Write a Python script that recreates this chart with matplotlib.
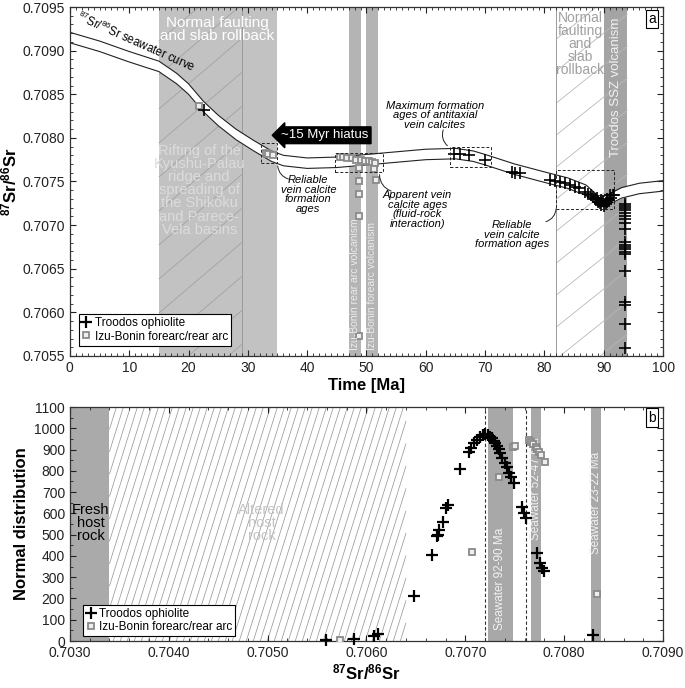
import matplotlib
matplotlib.use("Agg")
import matplotlib.pyplot as plt
import numpy as np
from matplotlib.collections import LineCollection
from matplotlib.lines import Line2D
from matplotlib.patches import Rectangle
from matplotlib.ticker import MultipleLocator, FormatStrFormatter

plt.rcParams["font.family"] = ["Liberation Sans", "DejaVu Sans"]
plt.rcParams["mathtext.fontset"] = "custom"
plt.rcParams["mathtext.rm"] = "Liberation Sans"
plt.rcParams["mathtext.it"] = "Liberation Sans:italic"
plt.rcParams["mathtext.bf"] = "Liberation Sans:bold"

# --- panel a: seawater curve (age Ma, 87Sr/86Sr centre of band) ---
sw_age = [0, 5, 10, 15, 18, 20, 22.5, 25, 28, 31, 34, 36, 40, 45, 50, 55, 60,
          65, 68, 70, 75, 80, 84, 87, 89, 90, 91, 93, 96, 100]
sw_sr = [0.70915, 0.70905, 0.70893, 0.70882, 0.70868, 0.70856, 0.70836,
         0.70820, 0.70804, 0.70791, 0.70779, 0.70774, 0.70771, 0.70772,
         0.70775, 0.70778, 0.70781, 0.70782, 0.70779, 0.70775, 0.70764,
         0.70755, 0.70748, 0.70740, 0.70728, 0.70727, 0.70730, 0.70737,
         0.70742, 0.70745]

troodos_age = [22.6, 64.8, 65.8, 67.3, 70.0, 74.5, 75.0, 75.9,
               80.9, 81.7, 82.6, 83.4, 84.3, 85.1, 85.9, 86.8, 87.3, 87.8,
               88.2, 88.6, 89.0, 89.3, 89.6, 90.0, 90.3, 90.6, 90.9, 91.2,
               91.5, 91.8, 89.8, 90.5, 88.9, 91.0, 89.5,
               93.6, 93.6, 93.6, 93.6, 93.6, 93.6, 93.6, 93.6, 93.6, 93.6,
               93.6, 93.6, 93.6, 93.6, 93.6, 93.6, 93.6, 93.6, 93.6, 93.6]
troodos_sr = [0.70832, 0.70782, 0.70782, 0.70780, 0.70775, 0.70761, 0.70760,
              0.70760, 0.70752, 0.70751, 0.70749, 0.70748, 0.70746, 0.70744,
              0.70742, 0.70738, 0.70736, 0.70735, 0.70732, 0.70730, 0.70727,
              0.70725, 0.70723, 0.70722, 0.70724, 0.70726, 0.70729, 0.70731,
              0.70734, 0.70735, 0.70728, 0.70730, 0.70731, 0.70734, 0.70729,
              0.707247, 0.707220, 0.707195, 0.707170, 0.707140, 0.707109,
              0.707075, 0.707029, 0.706960, 0.706805, 0.706776, 0.706748,
              0.706722, 0.706697, 0.706665, 0.706477, 0.706121, 0.706086,
              0.705868, 0.705592]

izu_age = [21.7, 33.0, 33.4, 34.2, 45.5, 46.1, 46.8, 47.6, 48.3, 49.0, 49.7,
           50.4, 50.9, 51.5, 48.7, 48.7, 48.7, 48.7, 48.7, 51.6, 51.3]
izu_sr = [0.70836, 0.70783, 0.70782, 0.70780, 0.70778, 0.70778, 0.70777,
          0.70777, 0.70775, 0.70775, 0.70773, 0.70773, 0.70772, 0.70771,
          0.70765, 0.70751, 0.70736, 0.70710, 0.70573, 0.70752, 0.70764]

# --- panel b: normal distribution vs 87Sr/86Sr ---
troodos_b_sr = [0.70559, 0.70587, 0.70608, 0.70612, 0.70648, 0.70666,
                0.70671, 0.70672, 0.70673, 0.70677, 0.70680, 0.70682,
                0.70695, 0.70704, 0.70706, 0.70709, 0.70712, 0.70715,
                0.70718, 0.70720, 0.70723, 0.70725, 0.70727, 0.70729,
                0.70730, 0.70732, 0.70734, 0.70735, 0.70737, 0.70740,
                0.70742, 0.70744, 0.70746, 0.70749, 0.70757, 0.70759,
                0.70761, 0.70772, 0.70776, 0.70778, 0.70780, 0.70829]
troodos_b_nd = [3, 8, 24, 33, 213, 404, 493, 498, 522, 561, 625, 639,
                807, 890, 907, 929, 945, 960, 968, 973, 968, 960, 953, 942,
                929, 917, 901, 882, 859, 838, 819, 788, 772, 741, 628, 603,
                577, 412, 365, 342, 331, 30]

izu_b_sr = [0.70573, 0.70707, 0.70734, 0.70748, 0.70750, 0.70764, 0.70766,
            0.70768, 0.70771, 0.70772, 0.70775, 0.70777, 0.70781, 0.70833]
izu_b_nd = [3, 417, 769, 912, 917, 945, 937, 926, 914, 902, 890, 874, 843,
            219]

sw_bands_b = [(0.70723, 0.70748, "Seawater 92-90 Ma"),
              (0.70766, 0.70777, "Seawater 52-47 Ma"),
              (0.70827, 0.70837, "Seawater 23-22 Ma")]
dashed_b = [0.707194, 0.707616]


def hatch(ax, x0, x1, y0, y1, slope_px, step_px, color, lw, z):
    # diagonal hatch lines at a fixed on-screen angle, clipped to the box
    fig = ax.figure
    bb = ax.get_position()
    w_px = bb.width * fig.get_figwidth() * fig.dpi
    h_px = bb.height * fig.get_figheight() * fig.dpi
    xl, yl = ax.get_xlim(), ax.get_ylim()
    sx = w_px / (xl[1] - xl[0])
    sy = h_px / (yl[1] - yl[0])
    run = (y1 - y0) * sy / slope_px / sx
    step = step_px / sx
    segs = []
    for c in np.arange(x0 - run, x1 + step, step):
        t_lo = max(0.0, (x0 - c) / run)
        t_hi = min(1.0, (x1 - c) / run)
        if t_hi <= t_lo:
            continue
        segs.append([(c + t_lo * run, y0 + t_lo * (y1 - y0)),
                     (c + t_hi * run, y0 + t_hi * (y1 - y0))])
    ax.add_collection(LineCollection(segs, colors=color, linewidths=lw,
                                     zorder=z))


def style_axis(ax):
    ax.tick_params(which="both", direction="in", top=True, right=True,
                   labelsize=10, colors="#222222")
    ax.tick_params(which="major", length=4)
    ax.tick_params(which="minor", length=2)
    for s in ax.spines.values():
        s.set_linewidth(0.9)
        s.set_color("#333333")


fig = plt.figure(figsize=(6.85, 6.88), dpi=100)
ax1 = fig.add_axes([0.102, 0.4826, 0.866, 0.5072])
ax2 = fig.add_axes([0.102, 0.0683, 0.866, 0.3401])

# ================= panel a =================
ax = ax1
ax.set_xlim(0, 100)
ax.set_ylim(0.7055, 0.7095)
ax.axvspan(15, 35, color="#c2c2c2", lw=0, zorder=0)
ax.axvline(29, color="#9a9a9a", lw=0.7, zorder=0.5)
hatch(ax, 15, 29, 0.7055, 0.7095, 0.85, 40, "#a2a2a2", 0.6, 0.4)
ax.axvspan(47, 49, color="#b4b4b4", lw=0, zorder=0)
ax.axvspan(50, 52, color="#b4b4b4", lw=0, zorder=0)
ax.axvspan(90, 94, color="#a4a4a4", lw=0, zorder=0)
ax.axvline(82, color="#9a9a9a", lw=0.7, zorder=0.5)
hatch(ax, 82, 94, 0.7055, 0.7095, 0.8, 40, "#b8b8b8", 0.6, 0.4)

hw = 0.00006
lo = np.array(sw_sr) - hw
hi = np.array(sw_sr) + hw
ax.fill_between(sw_age, lo, hi, color="white", lw=0, zorder=1)
ax.plot(sw_age, lo, color="#222222", lw=0.8, zorder=1.2)
ax.plot(sw_age, hi, color="#222222", lw=0.8, zorder=1.2)

ax.plot(izu_age, izu_sr, ls="none", marker="s", ms=5, mew=1.3,
        mec="#8a8a8a", mfc="#eeeeee", zorder=3)
ax.plot(troodos_age, troodos_sr, ls="none", marker="+", ms=8.5, mew=1.2,
        color="black", zorder=4)

ax.text(24.8, 0.70940, "Normal faulting\nand slab rollback", color="white",
        fontsize=11, ha="center", va="top", linespacing=0.95)
ax.text(21.8, 0.70793, "Rifting of the\nKyushu-Palau\nridge and\nspreading of\n"
        "the Shikoku\nand Parece-\nVela basins", color="#dcdcdc", fontsize=10.5,
        ha="center", va="top", linespacing=0.92)
ax.text(86, 0.70945, "Normal\nfaulting\nand\nslab\nrollback", color="#a0a0a0",
        fontsize=10, ha="center", va="top", linespacing=0.9)
ax.text(92, 0.70938, "Troodos SSZ volcanism", color="#f2f2f2", fontsize=9.5,
        rotation=90, ha="center", va="top")
ax.text(48, 0.70557, "Izu-Bonin rear arc volcanism", color="#ececec",
        fontsize=7.5, rotation=90, ha="center", va="bottom")
ax.text(51, 0.70557, "Izu-Bonin forearc volcanism", color="#ececec",
        fontsize=7.5, rotation=90, ha="center", va="bottom")
ax.text(11.2, 0.70910, r"$^{87}$Sr/$^{86}$Sr seawater curve", fontsize=8.3,
        rotation=-24, ha="center", va="center", rotation_mode="anchor",
        zorder=5)
ax.text(43.0, 0.70803, "~15 Myr hiatus", color="white", fontsize=9.5,
        ha="center", va="center", zorder=6,
        bbox=dict(boxstyle="larrow,pad=0.18", fc="black", ec="black"))

for (xa, xb, ya, yb) in [(32.2, 35.0, 0.70771, 0.70794),
                         (44.7, 52.8, 0.70761, 0.70783),
                         (64.0, 71.0, 0.70767, 0.70789),
                         (82.0, 91.8, 0.70719, 0.70763)]:
    ax.add_patch(Rectangle((xa, ya), xb - xa, yb - ya, fill=False,
                           ls=(0, (3, 2)), lw=0.7, ec="#222222", zorder=5))

note = dict(fontsize=8, style="italic", ha="center", va="center",
            linespacing=0.95)
ax.text(40.2, 0.70735, "Reliable\nvein calcite\nformation\nages", **note)
ax.text(58.6, 0.70718, "Apparent vein\ncalcite ages\n(fluid-rock\ninteraction)",
        **note)
ax.text(61.5, 0.70826, "Maximum formation\nages of antitaxial\nvein calcites",
        **note)
ax.text(74.5, 0.70689, "Reliable\nvein calcite\nformation ages", **note)
lead = dict(arrowstyle="-", lw=0.7, color="#222222")
ax.annotate("", xy=(35.0, 0.70771), xytext=(37.3, 0.70752),
            arrowprops=dict(connectionstyle="arc3,rad=-0.4", **lead))
ax.annotate("", xy=(52.2, 0.70761), xytext=(54.6, 0.70738),
            arrowprops=dict(connectionstyle="arc3,rad=-0.4", **lead))
ax.annotate("", xy=(64.0, 0.70789), xytext=(63.1, 0.70812),
            arrowprops=dict(connectionstyle="arc3,rad=0.4", **lead))
ax.annotate("", xy=(82.0, 0.70722), xytext=(79.8, 0.70703),
            arrowprops=dict(connectionstyle="arc3,rad=0.4", **lead))

ax.text(0.988, 0.986, "a", transform=ax.transAxes, ha="right", va="top",
        fontsize=10, bbox=dict(boxstyle="square,pad=0.15", fc="white",
                               ec="black", lw=0.8), zorder=7)

ax.xaxis.set_major_locator(MultipleLocator(10))
ax.xaxis.set_minor_locator(MultipleLocator(1))
ax.yaxis.set_major_locator(MultipleLocator(0.0005))
ax.yaxis.set_minor_locator(MultipleLocator(0.0001))
ax.yaxis.set_major_formatter(FormatStrFormatter("%.4f"))
style_axis(ax)
ax.set_xlabel("Time [Ma]", fontsize=12, fontweight="bold", labelpad=2)
ax.set_ylabel(r"$\mathbf{^{87}Sr/^{86}Sr}$", fontsize=12, labelpad=2)

leg_handles = [
    Line2D([], [], ls="none", marker="+", ms=9, mew=1.6, color="black"),
    Line2D([], [], ls="none", marker="s", ms=5, mew=1.3, mec="#8a8a8a",
           mfc="#eeeeee"),
]
leg_labels = ["Troodos ophiolite", "Izu-Bonin forearc/rear arc"]
leg_kw = dict(loc="lower left", fontsize=8.5, fancybox=False,
              edgecolor="black", framealpha=1, borderpad=0.25,
              labelspacing=0.1, handlelength=0.8, handletextpad=0.3,
              borderaxespad=0)
lg = ax.legend(leg_handles, leg_labels, bbox_to_anchor=(0.015, 0.03), **leg_kw)
lg.get_frame().set_linewidth(0.8)
lg.set_zorder(8)

# ================= panel b =================
ax = ax2
ax.set_xlim(0.7030, 0.7090)
ax.set_ylim(0, 1100)
ax.axvspan(0.7030, 0.7034, color="#aaaaaa", lw=0, zorder=0)
hatch(ax, 0.7034, 0.7064, 0, 1100, 3.2, 7, "#9a9a9a", 0.55, 0.4)
for xa, xb, lab in sw_bands_b:
    ax.axvspan(xa, xb, color="#a8a8a8", lw=0, zorder=0)
for xd in dashed_b:
    ax.axvline(xd, color="#333333", lw=0.8, ls=(0, (3, 2)), zorder=1)

ax.text((sw_bands_b[0][0] + sw_bands_b[0][1]) / 2, 50, sw_bands_b[0][2],
        color="#f2f2f2", fontsize=8.5, rotation=90, ha="center", va="bottom")
ax.text((sw_bands_b[1][0] + sw_bands_b[1][1]) / 2, 955, sw_bands_b[1][2],
        color="#f2f2f2", fontsize=8.5, rotation=90, ha="center", va="top")
ax.text((sw_bands_b[2][0] + sw_bands_b[2][1]) / 2, 890, sw_bands_b[2][2],
        color="#f2f2f2", fontsize=8.5, rotation=90, ha="center", va="top")
ax.text(0.70321, 555, "Fresh\nhost\nrock", fontsize=10.5, ha="center",
        va="center", linespacing=0.95)
ax.text(0.70494, 555, "Altered\nhost\nrock", fontsize=10.5, color="#c4c4c4",
        ha="center", va="center", linespacing=0.95)

ax.plot(izu_b_sr, izu_b_nd, ls="none", marker="s", ms=5, mew=1.3,
        mec="#8a8a8a", mfc="#eeeeee", zorder=3)
ax.plot(troodos_b_sr, troodos_b_nd, ls="none", marker="+", ms=9, mew=1.6,
        color="black", zorder=4, clip_on=False)

ax.text(0.988, 0.985, "b", transform=ax.transAxes, ha="right", va="top",
        fontsize=10, bbox=dict(boxstyle="square,pad=0.15", fc="white",
                               ec="black", lw=0.8), zorder=7)

ax.xaxis.set_major_locator(MultipleLocator(0.001))
ax.xaxis.set_minor_locator(MultipleLocator(0.0002))
ax.xaxis.set_major_formatter(FormatStrFormatter("%.4f"))
ax.yaxis.set_major_locator(MultipleLocator(100))
ax.yaxis.set_minor_locator(MultipleLocator(50))
style_axis(ax)
ax.set_xlabel(r"$\mathbf{^{87}Sr/^{86}Sr}$", fontsize=12, labelpad=2)
ax.set_ylabel("Normal distribution", fontsize=12, fontweight="bold",
              labelpad=4)
lg = ax.legend(leg_handles, leg_labels, bbox_to_anchor=(0.022, 0.02), **leg_kw)
lg.get_frame().set_linewidth(0.8)
lg.set_zorder(8)

fig.savefig("out.png", dpi=100)
